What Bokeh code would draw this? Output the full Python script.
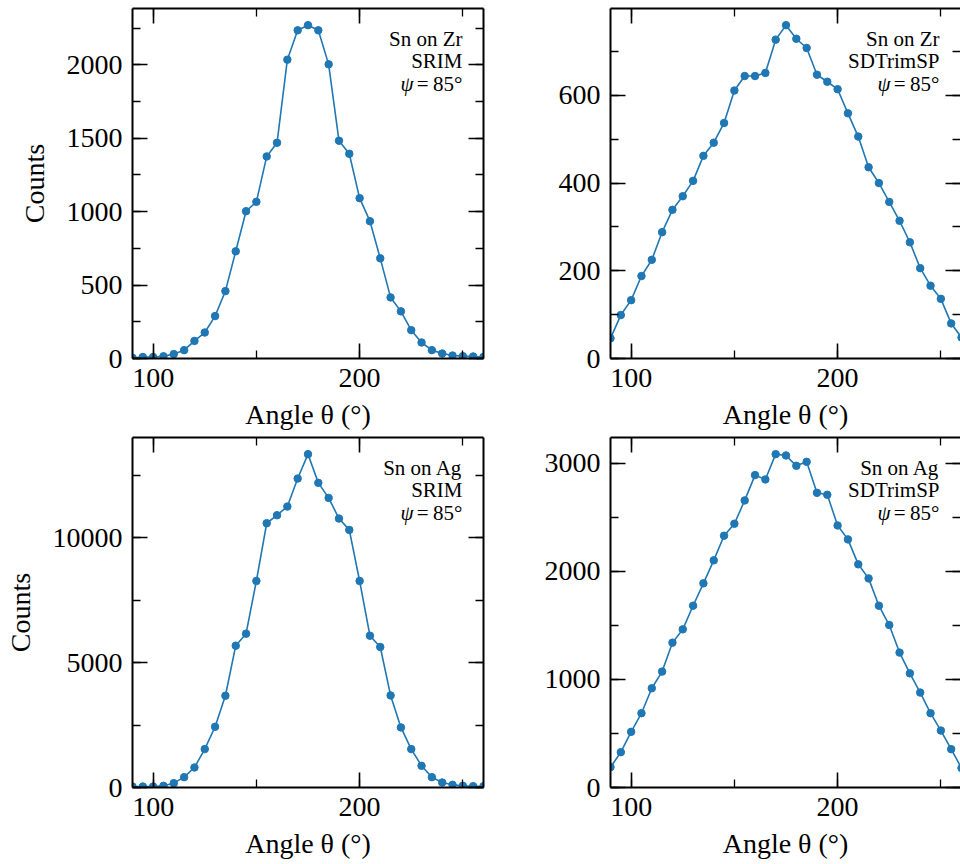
from bokeh.plotting import figure
from bokeh.models import Range1d, SingleIntervalTicker, LinearAxis, Label
from bokeh.layouts import row, column
from bokeh.embed import file_html
from bokeh.resources import INLINE

# ---- data ----
angle = list(range(90, 265, 5))

zr_srim = [5, 10, 10, 15, 30, 57, 120, 177, 289, 459,
           730, 1003, 1067, 1376, 1469, 2035, 2235, 2270, 2235, 2003,
           1483, 1394, 1092, 935, 682, 416, 321, 193, 109, 57,
           34, 20, 16, 14, 11]

zr_sdtrim = [46, 99, 133, 188, 225, 288, 339, 370, 405, 462,
             492, 537, 611, 644, 644, 651, 727, 760, 729, 708,
             647, 631, 614, 559, 506, 436, 400, 357, 314, 265,
             206, 166, 136, 80, 48]

ag_srim = [40, 40, 40, 67, 174, 414, 802, 1538, 2433, 3677,
           5682, 6164, 8276, 10589, 10910, 11258, 12381, 13357, 12207, 11605,
           10776, 10322, 8276, 6083, 5629, 3690, 2407, 1538, 869, 414,
           200, 107, 67, 53, 53]

ag_sdtrim = [188, 327, 515, 688, 919, 1073, 1341, 1464, 1683, 1890,
             2103, 2331, 2442, 2658, 2892, 2852, 3086, 3074, 2978, 3015,
             2728, 2710, 2426, 2297, 2066, 1936, 1683, 1504, 1249, 1057,
             879, 688, 527, 355, 180]

panel_lines = [
    ["Sn on Zr", "SRIM"],
    ["Sn on Zr", "SDTrimSP"],
    ["Sn on Ag", "SRIM"],
    ["Sn on Ag", "SDTrimSP"],
]
psi_symbol = "ψ"
psi_eq = "="
psi_value = "85°"
x_label = "Angle θ (°)"
y_label = "Counts"

FONT = "Liberation Serif"
BLUE = "#1f77b4"


def style_axis(ax, labels=True, line=True):
    ax.major_tick_in = 15
    ax.major_tick_out = 0
    ax.minor_tick_in = 8
    ax.minor_tick_out = 0
    ax.major_tick_line_width = 1.6
    ax.minor_tick_line_width = 1.3
    ax.major_tick_line_color = "black"
    ax.minor_tick_line_color = "black"
    ax.axis_line_width = 2
    ax.axis_line_color = "black" if line else None
    ax.major_label_text_font = FONT
    ax.axis_label_text_font = FONT
    ax.axis_label_text_font_style = "normal"
    ax.axis_label_text_font_size = "28px"
    ax.axis_label_text_color = "black"
    if labels:
        ax.major_label_text_color = "black"
        ax.major_label_text_font_size = "28px"
        ax.major_label_standoff = 10
    else:
        # spine-only axis: tick labels are not drawn at all
        ax.major_label_text_color = None
        ax.major_label_text_font_size = "1px"
        ax.major_label_standoff = 0


def add_text(p, x, y, text, style="normal"):
    p.add_layout(Label(x=x, y=y, x_units="screen", y_units="screen",
                       text=text, text_align="right", text_baseline="middle",
                       text_font=FONT, text_font_style=style,
                       text_font_size="21px", text_color="black"))


def make_panel(counts, ystep, lines, x_end, fw, left_border, right_border,
               top_border, bottom_border, ylabel, right_line=True):
    p = figure(frame_width=fw, frame_height=350,
               x_range=Range1d(90, x_end),
               y_range=Range1d(0, max(counts) * 1.05),
               output_backend="svg", toolbar_location=None,
               min_border_left=left_border, min_border_right=right_border,
               min_border_top=top_border, min_border_bottom=bottom_border,
               background_fill_color="white", border_fill_color="white")
    p.outline_line_color = None
    p.grid.visible = False

    p.xaxis.ticker = SingleIntervalTicker(interval=100, num_minor_ticks=2)
    p.yaxis.ticker = SingleIntervalTicker(interval=ystep, num_minor_ticks=2)
    style_axis(p.xaxis[0])
    style_axis(p.yaxis[0])
    p.xaxis.axis_label = x_label
    p.xaxis.axis_label_standoff = 9
    if ylabel:
        p.yaxis.axis_label = y_label
        p.yaxis.axis_label_standoff = 14

    top = LinearAxis(ticker=SingleIntervalTicker(interval=100, num_minor_ticks=2))
    style_axis(top, labels=False)
    p.add_layout(top, "above")
    right = LinearAxis(ticker=SingleIntervalTicker(interval=ystep, num_minor_ticks=2))
    style_axis(right, labels=False, line=right_line)
    p.add_layout(right, "right")

    p.line(angle, counts, line_color=BLUE, line_width=1.6)
    p.scatter(angle, counts, size=7.5, fill_color=BLUE, line_color=BLUE)

    xr = fw - 21
    for i, t in enumerate(lines):
        add_text(p, xr, 350 - 30 - 22.5 * i, t)
    add_text(p, xr, 350 - 75, psi_value)
    add_text(p, xr - 34, 350 - 75, psi_eq)
    add_text(p, xr - 49, 350 - 75, psi_symbol, "italic")
    return p


X_END_RIGHT = 90 + 350 * 170 / 351

p1 = make_panel(zr_srim, 500, panel_lines[0], 260, 351, 132, 55, 8, 76, True)
p2 = make_panel(zr_sdtrim, 200, panel_lines[1], X_END_RIGHT, 350, 72, 0, 8, 76, False, right_line=False)
p3 = make_panel(ag_srim, 5000, panel_lines[2], 260, 351, 132, 55, 3, 76, True)
p4 = make_panel(ag_sdtrim, 1000, panel_lines[3], X_END_RIGHT, 350, 72, 0, 3, 76, False, right_line=False)

layout = column(row(p1, p2), row(p3, p4))

open("out.html", "w").write(file_html(layout, INLINE))
